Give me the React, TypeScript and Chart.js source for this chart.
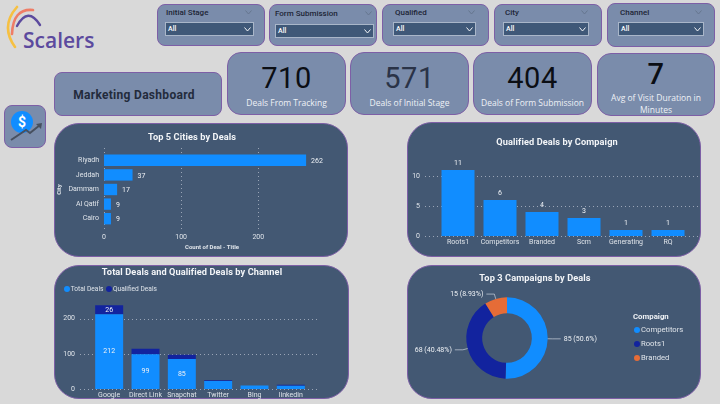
import React, { useEffect, useRef } from "react";
import { Chart, registerables } from "chart.js";
Chart.register(...registerables);

const filterLabels = ["Initial Stage", "Form Submission", "Qualified", "City", "Channel"];
const kpiValues = ["710", "571", "404", "7"];
const kpiLabels = ["Deals From Tracking", "Deals of Initial Stage", "Deals of Form Submission", "Avg of Visit Duration in Minutes"];

const cities = ["Riyadh", "Jeddah", "Dammam", "Al Qatif", "Cairo"];
const cityDeals = [262, 37, 17, 9, 9];

const campaigns = ["Roots1", "Competitors", "Branded", "Scm", "Generating", "RQ"];
const qualifiedDeals = [11, 6, 4, 3, 1, 1];

const channels = ["Google", "Direct Link", "Snapchat", "Twitter", "Bing", "linkedin"];
const channelSeries = ["Total Deals", "Qualified Deals"];
const channelTotal = [212, 99, 85, 23, 10, 9];
const channelQualified = [26, 15, 12, 2, 0, 3];

const topCampaigns = ["Competitors", "Roots1", "Branded"];
const topCampaignDeals = [85, 68, 15];
const topCampaignPct = ["50.6%", "40.48%", "8.93%"];

const BLUE = "#118DFF", NAVY = "#12239E", ORANGE = "#E66C37";
const PANEL = "#435873", LIGHT = "#7a8cab", EDGE = "#7d5fa6", TICK = "#dfe4ea", GRID = "rgba(225,230,238,0.55)";
const UI = "Roboto, sans-serif", HEAD = "Roboto, sans-serif", KPI = "'Open Sans', sans-serif";
const LABEL = 7;
const font = (size: number, weight: any = "normal") => ({ size, weight, family: UI });

// dotted grid lines that run past the plot area, as the reference's do
const gridPlugin = (axis: "x" | "y", before: number, after: number) => ({
  id: "longGrid",
  beforeDatasetsDraw(c: any) {
    const { ctx, chartArea: a } = c;
    const s = c.scales[axis];
    ctx.save();
    ctx.strokeStyle = GRID; ctx.lineWidth = 1; ctx.setLineDash([1, 3]);
    s.ticks.forEach((t: any) => {
      const p = Math.round(s.getPixelForValue(t.value)) + 0.5;
      ctx.beginPath();
      if (axis === "y") { ctx.moveTo(a.left - before, p); ctx.lineTo(a.right + after, p); }
      else { ctx.moveTo(p, a.top - before); ctx.lineTo(p, a.bottom + after); }
      ctx.stroke();
    });
    ctx.restore();
  },
});

const valueLabels = (mode: "end" | "top" | "center") => ({
  id: "valueLabels",
  afterDatasetsDraw(c: any) {
    const { ctx } = c;
    ctx.save();
    ctx.fillStyle = "#eef1f5"; ctx.font = `${LABEL}px ${UI}`; ctx.textBaseline = "middle";
    c.data.datasets.forEach((d: any, i: number) => {
      c.getDatasetMeta(i).data.forEach((b: any, j: number) => {
        const v = d.data[j];
        if (mode === "end") { ctx.textAlign = "left"; ctx.fillText(v, b.x + 5, b.y + 1); }
        if (mode === "top") { ctx.textAlign = "center"; ctx.fillText(v, b.x, b.y - 7); }
        if (mode === "center" && Math.abs(b.base - b.y) > 8.6) { ctx.textAlign = "center"; ctx.fillText(v, b.x, (b.base + b.y) / 2); }
      });
    });
    ctx.restore();
  },
});

const sliceLabels = {
  id: "sliceLabels",
  afterDatasetsDraw(c: any) {
    const { ctx } = c;
    ctx.save();
    ctx.font = `${LABEL}px ${UI}`; ctx.textBaseline = "middle";
    c.getDatasetMeta(0).data.forEach((arc: any, i: number) => {
      const m = (arc.startAngle + arc.endAngle) / 2;
      const r = arc.outerRadius;
      const right = Math.cos(m) > 0;
      const y0 = arc.y + Math.sin(m) * r, x0 = arc.x + Math.cos(m) * r;
      const x1 = arc.x + Math.cos(m) * (r + 5), y1 = arc.y + Math.sin(m) * (r + 5);
      const x2 = x1 + (right ? 8 : -8);
      ctx.strokeStyle = "rgba(225,230,238,0.6)"; ctx.lineWidth = 1;
      ctx.beginPath(); ctx.moveTo(x0, y0); ctx.lineTo(x1, y1); ctx.lineTo(x2, y1); ctx.stroke();
      ctx.fillStyle = "#eef1f5"; ctx.textAlign = right ? "left" : "right";
      ctx.fillText(`${topCampaignDeals[i]} (${topCampaignPct[i]})`, x2 + (right ? 3 : -3), y1);
    });
    ctx.restore();
  },
};

function Cv({ x, y, w, h, make }: { x: number; y: number; w: number; h: number; make: (c: HTMLCanvasElement) => Chart }) {
  const ref = useRef<HTMLCanvasElement>(null);
  useEffect(() => {
    const ch = make(ref.current!);
    return () => ch.destroy();
  }, []);
  return <canvas ref={ref} width={w} height={h} style={{ position: "absolute", left: x, top: y, width: w, height: h, display: "block" }} />;
}

const base = { responsive: false, animation: false as const, devicePixelRatio: 1 };
// fixes the axis thickness and drops the label overhang, so the plot area stays where it is set
const fix = (prop: "width" | "height", n: number) => (s: any) => {
  s[prop] = n;
  s.paddingTop = s.paddingBottom = s.paddingLeft = s.paddingRight = 0;
};
const noGrid = { display: false, drawTicks: false };

const makeCities = (cv: HTMLCanvasElement) => new Chart(cv, {
  type: "bar",
  data: { labels: cities, datasets: [{ label: "Count of Deal - Title", data: cityDeals, backgroundColor: BLUE, barPercentage: 0.78, categoryPercentage: 1 }] },
  options: {
    ...base, indexAxis: "y",
    layout: { autoPadding: false, padding: { top: 30, right: 28, left: 0, bottom: 6 } },
    plugins: { legend: { display: false }, tooltip: { enabled: false } },
    scales: {
      x: { min: 0, max: 280, afterFit: fix("height", 25), border: { display: false }, grid: noGrid,
        ticks: { stepSize: 100, includeBounds: false, maxRotation: 0, color: TICK, font: font(LABEL), padding: 7 },
        title: { display: true, text: "Count of Deal - Title", color: TICK, font: font(6, "bold"), padding: { top: 1, bottom: 0 } } },
      y: { afterFit: fix("width", 50), border: { display: false }, grid: noGrid,
        ticks: { color: TICK, font: font(LABEL), padding: 5 },
        title: { display: true, text: "City", color: TICK, font: font(6, "bold"), padding: { top: 2, bottom: 0 } } },
    },
  } as any,
  plugins: [gridPlugin("x", 5, 6), valueLabels("end")] as any,
});

const makeQualified = (cv: HTMLCanvasElement) => new Chart(cv, {
  type: "bar",
  data: { labels: campaigns, datasets: [{ label: "Qualified Deals", data: qualifiedDeals, backgroundColor: BLUE, barPercentage: 0.786, categoryPercentage: 1 }] },
  options: {
    ...base,
    layout: { autoPadding: false, padding: { top: 30, right: 12, left: 0, bottom: 0 } },
    plugins: { legend: { display: false }, tooltip: { enabled: false } },
    scales: {
      x: { afterFit: fix("height", 21), border: { display: false }, grid: noGrid,
        ticks: { color: TICK, font: font(LABEL), padding: 2, maxRotation: 0, autoSkip: false } },
      y: { min: 0, max: 14, afterFit: fix("width", 30), border: { display: false }, grid: noGrid,
        ticks: { stepSize: 5, includeBounds: false, color: TICK, font: font(LABEL), padding: 17 } },
    },
  } as any,
  plugins: [gridPlugin("y", 12, 11), valueLabels("top")] as any,
});

const makeChannels = (cv: HTMLCanvasElement) => new Chart(cv, {
  type: "bar",
  data: {
    labels: channels,
    datasets: [
      { label: channelSeries[0], data: channelTotal, backgroundColor: BLUE, barPercentage: 0.77, categoryPercentage: 1 },
      { label: channelSeries[1], data: channelQualified, backgroundColor: NAVY, barPercentage: 0.77, categoryPercentage: 1 },
    ],
  },
  options: {
    ...base,
    layout: { autoPadding: false, padding: { top: 39.5, right: 40, left: 8, bottom: 0 } },
    plugins: { tooltip: { enabled: false }, legend: { display: false } },
    scales: {
      x: { stacked: true, afterFit: fix("height", 10), border: { display: false }, grid: noGrid,
        ticks: { color: TICK, font: font(LABEL), padding: 2, maxRotation: 0, autoSkip: false } },
      y: { stacked: true, min: 0, max: 240, afterFit: fix("width", 29), border: { display: false }, grid: noGrid,
        ticks: { stepSize: 100, includeBounds: false, color: TICK, font: font(LABEL), padding: 16 } },
    },
  } as any,
  plugins: [gridPlugin("y", 11, 11), valueLabels("center")] as any,
});

const makeTop = (cv: HTMLCanvasElement) => new Chart(cv, {
  type: "doughnut",
  data: { labels: topCampaigns, datasets: [{ data: topCampaignDeals, backgroundColor: [BLUE, NAVY, ORANGE], borderWidth: 0 }] },
  options: {
    ...base, cutout: "61%",
    layout: { autoPadding: false, padding: { top: 32.3, bottom: 20.3, left: 59.3, right: 153.3 } },
    plugins: { tooltip: { enabled: false }, legend: { display: false } },
  } as any,
  plugins: [sliceLabels] as any,
});

const box = (x0: number, y0: number, x1: number, y1: number, r: number, bg: string): React.CSSProperties => ({
  position: "absolute", left: x0, top: y0, width: x1 - x0, height: y1 - y0, borderRadius: r, background: bg,
  border: `1.2px solid ${EDGE}`, boxSizing: "border-box",
});
const Txt = ({ x, y, children, style }: any) => (
  <div style={{ position: "absolute", left: x, top: y, transform: "translate(-50%,-50%)", whiteSpace: "nowrap", lineHeight: 1, ...style }}>{children}</div>
);
const TxtL = ({ x, y, children, style }: any) => (
  <div style={{ position: "absolute", left: x, top: y, transform: "translateY(-50%)", whiteSpace: "nowrap", lineHeight: 1, ...style }}>{children}</div>
);
const Chev = ({ x, y, c, w = 7 }: any) => (
  <svg style={{ position: "absolute", left: x, top: y }} width={w} height={5}><path d={`M0.5 0.5 L${w / 2} 4 L${w - 0.5} 0.5`} fill="none" stroke={c} strokeWidth="1" /></svg>
);
const LegendItem = ({ cx, tx, y, color, text, size = 6.6 }: any) => (
  <>
    <div style={{ position: "absolute", left: cx - 3, top: y - 3, width: 6, height: 6, borderRadius: 3, background: color }} />
    <TxtL x={tx} y={y} style={{ fontFamily: UI, fontSize: size, color: TICK }}>{text}</TxtL>
  </>
);

const filterLayout = [
  { b: [157, 4, 265, 46], d: [165, 22, 254, 36], lx: 166, ly: 13, cx: 245 },
  { b: [269, 4, 377, 46], d: [275, 24, 374, 38], lx: 275, ly: 14, cx: 365 },
  { b: [382, 4, 489, 46], d: [393, 22, 476, 36], lx: 395, ly: 13, cx: 468 },
  { b: [494, 4, 602, 46], d: [503, 22, 589, 36], lx: 505, ly: 13, cx: 581 },
  { b: [607, 3, 715, 47], d: [618, 22, 704, 36], lx: 620, ly: 13, cx: 695 },
];
const kpiLayout = [[227, 52, 346, 115], [350, 52, 469, 115], [473, 52, 592, 115], [597, 53, 715, 116]];
const kpiColors = ["#0b0e14", "#2a3347", "#0b0e14", "#0b0e14"];

export default function App() {
  return (
    <div style={{ position: "fixed", left: 0, top: 0, width: 720, height: 404, background: "#d9d9d9", overflow: "hidden" }}>
      <svg style={{ position: "absolute", left: 0, top: 0 }} width={60} height={52} fill="none" strokeLinecap="round">
        <path d="M17 7 Q0 26 15 47" stroke="#f6c042" strokeWidth="2.6" />
        <path d="M33 10 Q13 8 12 34" stroke="#ef7d66" strokeWidth="2.6" />
        <path d="M17 26 Q28 6 40 25" stroke="#5c4a9e" strokeWidth="2.4" />
      </svg>
      <TxtL x={23} y={40} style={{ fontFamily: "'Open Sans'", fontWeight: 600, fontSize: 21, color: "#5c4a9e" }}>Scalers</TxtL>

      {filterLabels.map((f, i) => {
        const L = filterLayout[i];
        const [x0, y0, x1, y1] = L.b, [dx0, dy0, dx1, dy1] = L.d;
        return (
          <React.Fragment key={f}>
            <div style={box(x0, y0, x1, y1, 8, LIGHT)} />
            <TxtL x={L.lx} y={L.ly} style={{ fontFamily: HEAD, fontWeight: 500, fontSize: 8, color: "#1d2536" }}>{f}</TxtL>
            <Chev x={L.cx} y={L.ly - 3} c="#66768f" />
            <div style={{ position: "absolute", left: dx0, top: dy0, width: dx1 - dx0, height: dy1 - dy0, background: "#3f5878", border: "1px solid #a9b6c9", boxSizing: "border-box" }} />
            <TxtL x={dx0 + 3} y={(dy0 + dy1) / 2} style={{ fontFamily: UI, fontWeight: 500, fontSize: 7, color: "#fff" }}>All</TxtL>
            <Chev x={dx1 - 10} y={dy0 + 5} c="#f2f4f7" />
          </React.Fragment>
        );
      })}

      <div style={box(54, 72, 222, 116, 8, LIGHT)} />
      <Txt x={134} y={95} style={{ fontFamily: HEAD, fontWeight: 700, fontSize: 12, color: "#232b3c", letterSpacing: 0.3 }}>Marketing Dashboard</Txt>

      {kpiValues.map((v, i) => {
        const [x0, y0, x1, y1] = kpiLayout[i];
        const cx = (x0 + x1) / 2;
        return (
          <React.Fragment key={v}>
            <div style={box(x0, y0, x1, y1, 14, LIGHT)} />
            <Txt x={cx} y={i === 3 ? 74 : 78} style={{ fontFamily: HEAD, fontSize: 29, fontWeight: i === 3 ? 500 : 400, color: kpiColors[i], letterSpacing: 0.6 }}>{v}</Txt>
            <Txt x={cx} y={i === 3 ? 104 : 103} style={{ fontFamily: KPI, fontSize: 8.5, lineHeight: "12px", color: "#eef1f6", textAlign: "center", whiteSpace: "normal", width: i === 3 ? 104 : 118 }}>{kpiLabels[i]}</Txt>
          </React.Fragment>
        );
      })}

      <div style={box(4, 105, 46, 148, 8, LIGHT)} />
      <svg style={{ position: "absolute", left: 4, top: 105 }} width={42} height={43} fill="none">
        <circle cx={18} cy={17} r={11} fill="#118DFF" />
        <text x={18} y={22} textAnchor="middle" fontFamily="Roboto" fontWeight="700" fontSize="14" fill="#fff">$</text>
        <path d="M7 35 L22 25 L26 28 L36 20" stroke="#47505f" strokeWidth="2" />
        <path d="M32 19 L38 18 L37 24 Z" fill="#47505f" />
      </svg>

      <div style={box(54, 123, 348, 257, 25, PANEL)} />
      <div style={box(407, 122, 701, 257, 25, PANEL)} />
      <div style={box(54, 265, 349, 399, 25, PANEL)} />
      <div style={box(407, 265, 701, 399, 25, PANEL)} />

      <Cv x={54} y={123} w={294} h={134} make={makeCities} />
      <Cv x={407} y={122} w={294} h={135} make={makeQualified} />
      <Cv x={54} y={265} w={295} h={134} make={makeChannels} />
      <Cv x={407} y={265} w={294} h={134} make={makeTop} />

      <LegendItem cx={67} tx={70.7} y={289} color={BLUE} text={channelSeries[0]} />
      <LegendItem cx={109} tx={113} y={289} color={NAVY} text={channelSeries[1]} />

      <TxtL x={633} y={317} style={{ fontFamily: UI, fontWeight: 700, fontSize: 7.8, color: "#eef1f5" }}>Compaign</TxtL>
      {topCampaigns.map((t, i) => (
        <LegendItem key={t} cx={637} tx={641} y={[329.5, 344, 358][i]} color={[BLUE, NAVY, ORANGE][i]} text={t} size={7.7} />
      ))}

      {[
        ["Top 5 Cities by Deals", 192, 137],
        ["Qualified Deals by Compaign", 557, 142],
        ["Total Deals and Qualified Deals by Channel", 192, 272],
        ["Top 3 Campaigns by Deals", 535, 278],
      ].map(([t, x, y]) => (
        <Txt key={t as string} x={x} y={y} style={{ fontFamily: HEAD, fontWeight: 700, fontSize: 9.2, color: "#f3f5f8", letterSpacing: 0.1 }}>{t}</Txt>
      ))}
    </div>
  );
}
